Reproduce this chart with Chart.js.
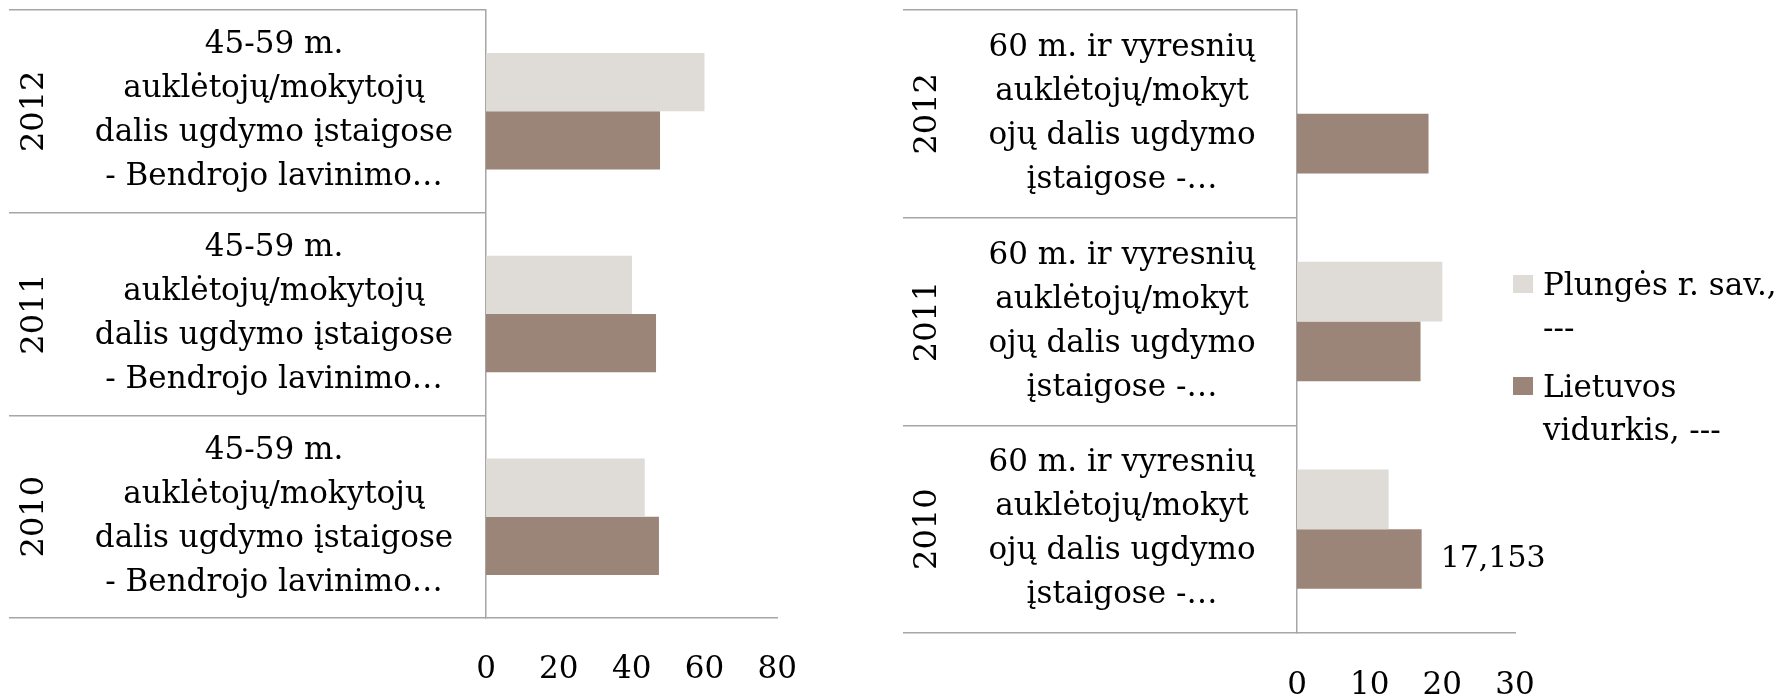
<!DOCTYPE html>
<html lang="lt">
<head>
<meta charset="UTF-8">
<title>Auklėtojų/mokytojų dalis ugdymo įstaigose</title>
<script src="https://cdn.jsdelivr.net/npm/chart.js"></script>
<style>
  html, body { margin: 0; padding: 0; background: #fff; overflow: hidden; }
  body { width: 1779px; height: 695px; position: relative; font-family: "DejaVu Serif", serif; }
  #kaire { position: absolute; left: 0; top: 0; }
  #desine { position: absolute; left: 880px; top: 0; }
  #legenda { position: absolute; left: 1513px; top: 263px; width: 272px; font-size: 31px; line-height: 43px; color: #000; }
  .irasas { display: flex; align-items: flex-start; }
  .irasas + .irasas { margin-top: 16px; }
  .kvadratas { flex: none; width: 20px; height: 18px; margin-top: 12px; margin-right: 10px; }
</style>
</head>
<body>
<canvas id="kaire" width="830" height="695"></canvas>
<canvas id="desine" width="899" height="695"></canvas>
<div id="legenda"></div>
<script>
// duomenys
const metai = ['2012', '2011', '2010'];
const kaireEtikete = ['45-59 m.', 'auklėtojų/mokytojų', 'dalis ugdymo įstaigose', '- Bendrojo lavinimo…'];
const desineEtikete = ['60 m. ir vyresnių', 'auklėtojų/mokyt', 'ojų dalis ugdymo', 'įstaigose -…'];
const serijos = ['Plungės r. sav., ---', 'Lietuvos vidurkis, ---'];
const spalvos = ['#dfdbd7', '#9b8579'];

// 45-59 m.
const plungeKaire = [60.0, 40.1, 43.6];
const lietuvaKaire = [47.8, 46.7, 47.5];
// 60 m. ir vyresni
const plungeDesine = [null, 20.0, 12.6];
const lietuvaDesine = [18.1, 17.0, 17.153];
const lietuvaDesineZymes = [false, false, true];

const kaireAsis = { max: 80, step: 20 };
const desineAsis = { max: 30, step: 10 };

const pilka = '#a6a6a6';
const seimyna = "'DejaVu Serif', serif";
Chart.defaults.font.family = seimyna;
Chart.defaults.color = '#000';

function plotis(eilutes, dydis) {
    const ctx = document.createElement('canvas').getContext('2d');
    ctx.font = dydis + 'px ' + seimyna;
    return Math.max(...eilutes.map(t => ctx.measureText(t).width));
}

const reiksmesZyme = {
    id: 'reiksmesZyme',
    afterDatasetsDraw(chart) {
        const zymes = chart.options.plugins.reiksmesZyme.rodyti;
        if (!zymes) return;
        const ctx = chart.ctx;
        const meta = chart.getDatasetMeta(1);
        ctx.save();
        ctx.font = '30px ' + seimyna;
        ctx.fillStyle = '#000';
        ctx.textBaseline = 'middle';
        meta.data.forEach((bar, i) => {
            if (!zymes[i]) return;
            const v = chart.data.datasets[1].data[i];
            ctx.fillText(v.toFixed(3).replace('.', ','), bar.x + 19, bar.y);
        });
        ctx.restore();
    }
};

function braizyti(id, etikete, plunge, lietuva, asis, g, zymes) {
    const vidPlotis = plotis(etikete, 31);
    const metuPlotis = plotis(metai, 32);
    return new Chart(document.getElementById(id), {
        type: 'bar',
        data: {
            labels: metai,
            datasets: [
                { label: serijos[0], data: plunge, backgroundColor: spalvos[0], categoryPercentage: 0.575, barPercentage: 1 },
                { label: serijos[1], data: lietuva, backgroundColor: spalvos[1], categoryPercentage: 0.575, barPercentage: 1 }
            ]
        },
        plugins: [reiksmesZyme],
        options: {
            indexAxis: 'y',
            responsive: false,
            animation: false,
            layout: { padding: { left: g.kaire, top: 10, right: g.desine, bottom: 0 } },
            plugins: { legend: { display: false }, tooltip: { enabled: false }, reiksmesZyme: { rodyti: zymes } },
            scales: {
                x: {
                    min: 0, max: asis.max,
                    ticks: { stepSize: asis.step, font: { size: 31 }, color: '#000', padding: g.xTarpas },
                    grid: { display: false, drawTicks: false },
                    border: { display: true, color: pilka, width: 1.5 },
                    afterFit: s => { s.height = g.xAukstis; }
                },
                y: {
                    type: 'category',
                    labels: metai.map(() => etikete),
                    offset: true,
                    weight: 0,
                    grid: { offset: true, drawOnChartArea: false, drawTicks: true, tickLength: g.vidW, color: pilka, lineWidth: 1.5 },
                    border: { display: true, color: pilka, width: 1.5 },
                    ticks: {
                        autoSkip: false, crossAlign: 'center', color: '#000',
                        font: { size: 31, lineHeight: 44 / 31 },
                        padding: -g.vidCentras - vidPlotis / 2
                    },
                    afterFit: s => { s.width = g.vidW; }
                },
                metai: {
                    type: 'category',
                    position: 'left',
                    labels: metai,
                    offset: true,
                    weight: 1,
                    grid: { offset: true, drawOnChartArea: false, drawTicks: true, tickLength: g.metW, color: pilka, lineWidth: 1.5 },
                    border: { display: false },
                    ticks: {
                        autoSkip: false, crossAlign: 'center', color: '#000',
                        minRotation: 90, maxRotation: 90,
                        font: { size: 32 },
                        padding: -g.metCentras - metuPlotis / 2
                    },
                    afterFit: s => { s.width = g.metW; }
                }
            }
        }
    });
}

// vidCentras / metCentras - atstumas nuo asies dešiniojo krašto iki teksto centro
braizyti('kaire', kaireEtikete, plungeKaire, lietuvaKaire, kaireAsis,
    { kaire: 9, desine: 52, metW: 51, vidW: 426, metCentras: 26, vidCentras: 214, xAukstis: 77, xTarpas: 33 }, null);

const desine = braizyti('desine', desineEtikete, plungeDesine, lietuvaDesine, desineAsis,
    { kaire: 23, desine: 264, metW: 50, vidW: 344, metCentras: 25, vidCentras: 169, xAukstis: 62, xTarpas: 34 }, lietuvaDesineZymes);

// legenda
const legenda = document.getElementById('legenda');
desine.data.datasets.forEach(ds => {
    const irasas = document.createElement('div');
    irasas.className = 'irasas';
    const k = document.createElement('span');
    k.className = 'kvadratas';
    k.style.background = ds.backgroundColor;
    const t = document.createElement('span');
    t.textContent = ds.label;
    irasas.appendChild(k);
    irasas.appendChild(t);
    legenda.appendChild(irasas);
});
</script>
</body>
</html>
